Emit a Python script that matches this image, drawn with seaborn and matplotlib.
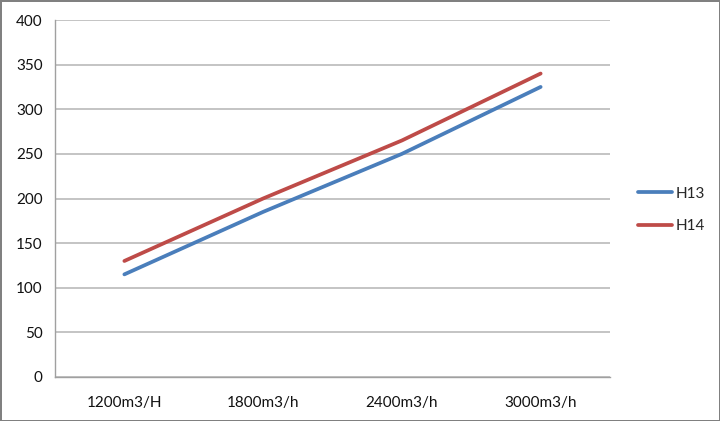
import matplotlib
matplotlib.use("Agg")
import matplotlib.pyplot as plt
import seaborn as sns
import pandas as pd

categories = ["1200m3/H", "1800m3/h", "2400m3/h", "3000m3/h"]
h13 = [115, 185, 250, 325]
h14 = [130, 200, 265, 340]
series_names = ["H13", "H14"]
colors = ["#4A7EBB", "#BE4B48"]

df = pd.DataFrame({
    "cat": categories * 2,
    "value": h13 + h14,
    "series": [series_names[0]] * 4 + [series_names[1]] * 4,
})

sns.set_style("white")
plt.rcParams["font.family"] = ["Lato", "DejaVu Sans"]

fig = plt.figure(figsize=(7.2, 4.21), dpi=100)
ax = fig.add_axes([55 / 720, 1 - 377 / 421, (610 - 55) / 720, (377 - 20) / 421])

sns.lineplot(data=df, x="cat", y="value", hue="series", palette=colors,
             linewidth=2.7, ax=ax, legend=True, sort=False)

ax.set_xlim(-0.5, 3.5)
ax.set_ylim(0, 400)
ax.set_yticks(range(0, 401, 50))
ax.yaxis.grid(True, color="#b4b4b4", linewidth=1.1)
ax.set_axisbelow(True)
ax.set_xlabel("")
ax.set_ylabel("")

for s in ["top", "right"]:
    ax.spines[s].set_visible(False)
for s in ["left", "bottom"]:
    ax.spines[s].set_color("#a0a0a0")
    ax.spines[s].set_linewidth(1.0)

ax.set_xticks(range(4))
ax.set_xticklabels(categories)
ax.set_xticks([-0.5, 0.5, 1.5, 2.5, 3.5], minor=True)
ax.tick_params(axis="x", which="major", length=0, pad=14, labelsize=11, colors="#111111")
ax.tick_params(axis="x", which="minor", length=6, color="#a0a0a0", width=1.0, direction="out")
ax.tick_params(axis="y", which="major", length=5, color="#a0a0a0", width=1.0,
               direction="out", labelsize=11, pad=4)
ax.tick_params(axis="y", which="major", colors="#a0a0a0", labelcolor="#111111")

leg = ax.legend(loc="center left", bbox_to_anchor=(624 / 720, 1 - 210 / 421),
                bbox_transform=fig.transFigure, frameon=False, fontsize=11,
                handlelength=2.25, handletextpad=0.2, labelspacing=1.2)

fig.patch.set_facecolor("white")
fig.patch.set_edgecolor("#808080")
fig.patch.set_linewidth(2)

fig.savefig("out.png", dpi=100, facecolor="white", edgecolor="#808080")
